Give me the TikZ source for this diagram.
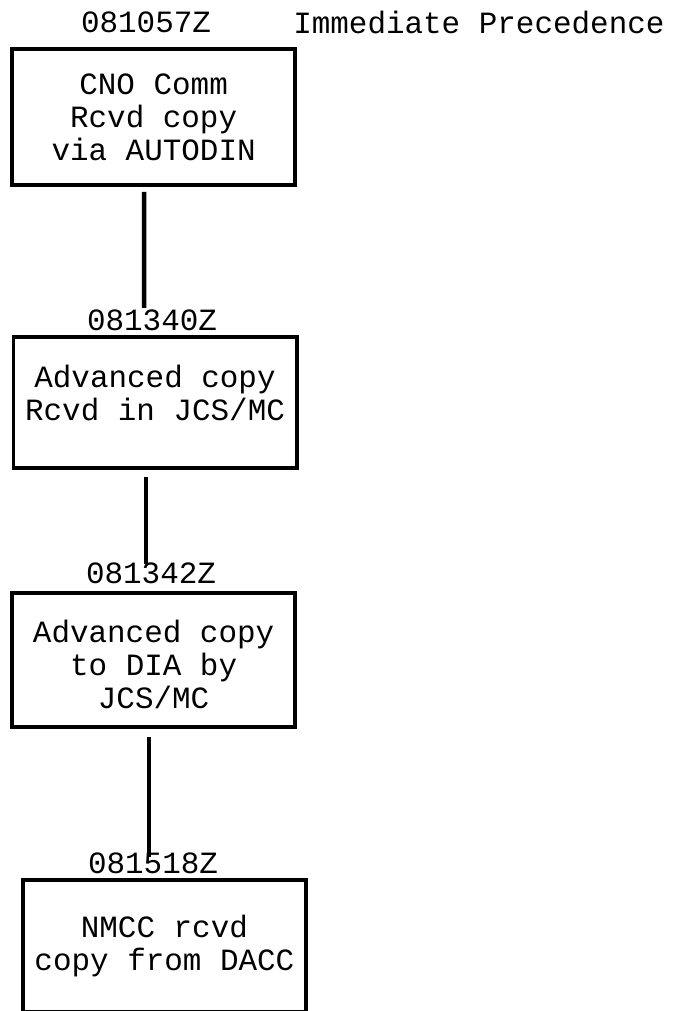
\documentclass[tikz,border=0pt]{standalone}
\usepackage{fontspec}
\newfontfamily\typer{Liberation Mono}
\usepackage{tikz}
\usetikzlibrary{positioning}

\begin{document}
\begin{tikzpicture}
	\tikzstyle{every node}=[font=\typer\fontsize{22}{23.5}\selectfont]
	\tikzstyle{event}=[draw,line width=2.7pt,align=center,inner sep=0.1cm,minimum width=7.08cm]
	\tikzstyle{stamp}=[inner sep=0pt]
	\tikzstyle{link}=[line width=2.6pt]
	\useasboundingbox (0,0) rectangle (16.975,25.275);

	\node[stamp] (t1) at (3.65,24.725) {081057Z};
	\node[stamp,anchor=west] (prec) at (7.325,24.725) {Immediate Precedence};
	\node[event,minimum height=3.4cm] (cno) at (3.84,22.35) {CNO Comm\\Rcvd copy\\via AUTODIN};

	\node[stamp] (t2) at (3.8,17.275) {081340Z};
	\node[event,minimum height=3.28cm] (jcs) at (3.875,15.21) {Advanced copy\\Rcvd in JCS/MC\rule[-0.5cm]{0pt}{0.1cm}};

	\node[stamp] (t3) at (3.775,10.95) {081342Z};
	\node[event,minimum height=3.35cm] (dia) at (3.84,8.775) {\rule{0pt}{0.8cm}Advanced copy\\to DIA by\\JCS/MC};

	\node[stamp] (t4) at (3.825,3.7) {081518Z};
	\node[event,minimum height=3.3cm] (nmcc) at (4.11,1.625) {NMCC rcvd\\copy from DACC};

	% time lines
	\draw[link,line width=3.2pt] ([xshift=-0.24cm,yshift=-0.125cm]cno.south) -- ([xshift=-0.2cm,yshift=0.3cm]t2.center);
	\draw[link] ([xshift=-0.225cm,yshift=-0.17cm]jcs.south) -- ([xshift=-0.125cm,yshift=0.22cm]t3.center);
	\draw[link,line width=2.2pt] ([xshift=-0.115cm,yshift=-0.2cm]dia.south) -- ([xshift=-0.1cm,yshift=0.15cm]t4.center);
\end{tikzpicture}
\end{document}
